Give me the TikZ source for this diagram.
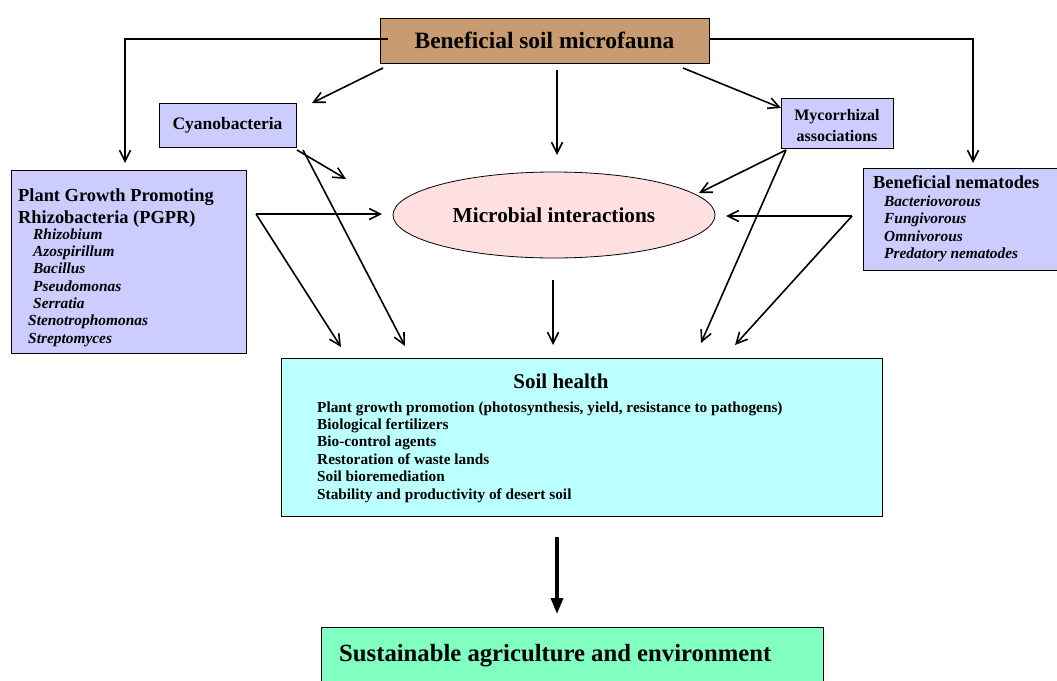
\documentclass[tikz,border=0pt]{standalone}
\usepackage{fontspec}
\setmainfont{Liberation Serif}
\usetikzlibrary{arrows.meta,shadows,shapes.geometric}
\definecolor{brownc}{HTML}{C99B70}
\definecolor{lav}{HTML}{CCCCFF}
\definecolor{pinkc}{HTML}{FFE0E0}
\definecolor{cyanc}{HTML}{BBFFFF}
\definecolor{greenc}{HTML}{80FFC0}
\tikzset{
  box/.style={draw=black, line width=0.8pt, inner sep=0pt, drop shadow={shadow xshift=1.2pt, shadow yshift=-1.2pt, fill=gray!80, opacity=1}},
  arr/.style={line width=1.6pt, -{Straight Barb[length=11pt,width=11pt,line width=1.6pt]}},
  bigarr/.style={line width=3.5pt, -{Triangle[length=16pt,width=12pt]}},
  lbl/.style={font=\bfseries, inner sep=0pt, anchor=base west},
  itl/.style={font=\bfseries\itshape\fontsize{15.4}{17}\selectfont, inner sep=0pt, anchor=base west},
  hd/.style={font=\bfseries\fontsize{18.4}{20}\selectfont, inner sep=0pt, anchor=base west},
  sitem/.style={font=\bfseries\fontsize{15.3}{17}\selectfont, inner sep=0pt, anchor=base west},
}
\begin{document}
\begin{tikzpicture}[x=1pt,y=-1pt]
\useasboundingbox (0,0) rectangle (1057,680);
% boxes
\node[box, fill=brownc, minimum width=329pt, minimum height=45pt, font=\bfseries\fontsize{23.4}{25}\selectfont] (top) at (544.5,40.5) {Beneficial soil microfauna};
\node[box, fill=lav, minimum width=137pt, minimum height=44pt, font=\bfseries\fontsize{17.5}{19}\selectfont] (cyano) at (227.5,125) {Cyanobacteria};
\node[box, fill=lav, minimum width=112pt, minimum height=50pt] (myco) at (837,123) {};
\node[align=center, inner sep=0pt, font=\bfseries\fontsize{16}{21}\selectfont] (mycoT) at (837,126) {Mycorrhizal\\associations};
\node[box, fill=lav, minimum width=235pt, minimum height=183pt] (pgpr) at (128.5,261.5) {};
\node[box, fill=lav, minimum width=200pt, minimum height=102pt] (nema) at (963,219) {};
\node[draw=black, line width=0.8pt, fill=pinkc, ellipse, minimum width=322pt, minimum height=86pt, inner sep=0pt, font=\bfseries\fontsize{21.3}{23}\selectfont] (micro) at (554,215) {Microbial interactions};
\node[box, fill=cyanc, minimum width=601pt, minimum height=158pt] (soil) at (581.5,437) {};
\node[box, fill=greenc, minimum width=502pt, minimum height=60pt] (sust) at (572,657) {};
% texts
\node[hd] (p1) at (18,201) {Plant Growth Promoting};
\node[hd] (p2) at (18,223) {Rhizobacteria (PGPR)};
\node[itl] (p3) at (33,239) {Rhizobium};
\node[itl] (p4) at (33,256) {Azospirillum};
\node[itl] (p5) at (33,273.5) {Bacillus};
\node[itl] (p6) at (33,291) {Pseudomonas};
\node[itl] (p7) at (33,308) {Serratia};
\node[itl] (p8) at (28,325.5) {Stenotrophomonas};
\node[itl] (p9) at (28,343) {Streptomyces};
\node[hd] (n1) at (873,188) {Beneficial nematodes};
\node[itl] (n2) at (884,206) {Bacteriovorous};
\node[itl] (n3) at (884,223) {Fungivorous};
\node[itl] (n4) at (884,241) {Omnivorous};
\node[itl] (n5) at (884,258) {Predatory nematodes};
\node[font=\bfseries\fontsize{21}{23}\selectfont, inner sep=0pt, anchor=base] (s0) at (561,388) {Soil health};
\node[sitem] (s1) at (317,412) {Plant growth promotion (photosynthesis, yield, resistance to pathogens)};
\node[sitem] (s2) at (317,429) {Biological fertilizers};
\node[sitem] (s3) at (317,446.5) {Bio-control agents};
\node[sitem] (s4) at (317,464) {Restoration of waste lands};
\node[sitem] (s5) at (317,481.5) {Soil bioremediation};
\node[sitem] (s6) at (317,499) {Stability and productivity of desert soil};
\node[lbl, font=\bfseries\fontsize{24.7}{26}\selectfont] (t1) at (339,661) {Sustainable agriculture and environment};
% coordinates
\coordinate (tl) at (388,39);
\coordinate (tr) at (709,39);
\coordinate (pgprIn) at (125,163);
\coordinate (nemaIn) at (973,163);
\coordinate (tcy) at (383,68);
\coordinate (cyIn) at (312,103);
\coordinate (tmid) at (557,70);
\coordinate (microIn) at (557,155);
\coordinate (tmy) at (683,68);
\coordinate (myIn) at (781,108);
\coordinate (cyOut1) at (297,150);
\coordinate (cyOut2) at (303,150);
\coordinate (cyE) at (346,179);
\coordinate (cyS) at (405,346);
\coordinate (pgOut) at (256,214);
\coordinate (pgE) at (382,214);
\coordinate (pgS) at (341,347);
\coordinate (miOut) at (553,280);
\coordinate (miS) at (553,345);
\coordinate (myOut) at (786,150);
\coordinate (myE) at (699,193);
\coordinate (myS) at (701,343);
\coordinate (nmOut) at (852,216);
\coordinate (nmE) at (726,216);
\coordinate (nmS) at (735,345);
\coordinate (soilOut) at (557,537);
\coordinate (sustIn) at (557,614);
% connectors
\draw[arr] (tl) -| (pgprIn);
\draw[arr] (tr) -| (nemaIn);
\draw[arr] (tcy) -- (cyIn);
\draw[arr] (tmid) -- (microIn);
\draw[arr] (tmy) -- (myIn);
\draw[arr] (cyOut1) -- (cyE);
\draw[arr] (cyOut2) -- (cyS);
\draw[arr] (pgOut) -- (pgE);
\draw[arr] (pgOut) -- (pgS);
\draw[arr] (miOut) -- (miS);
\draw[arr] (myOut) -- (myE);
\draw[arr] (myOut) -- (myS);
\draw[arr] (nmOut) -- (nmE);
\draw[arr] (nmOut) -- (nmS);
\draw[bigarr] (soilOut) -- (sustIn);
\end{tikzpicture}
\end{document}
